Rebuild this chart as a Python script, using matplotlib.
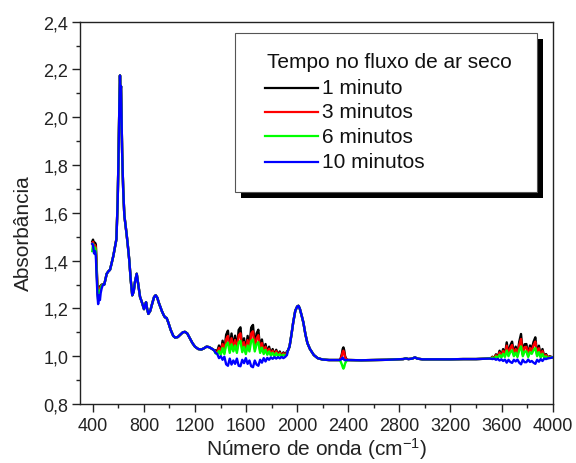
import numpy as np
import matplotlib
matplotlib.use("Agg")
import matplotlib.pyplot as plt
from matplotlib.ticker import MultipleLocator, FuncFormatter
from matplotlib.patches import Rectangle
from matplotlib.lines import Line2D

plt.rcParams['font.family'] = ['Liberation Sans', 'DejaVu Sans']
plt.rcParams['mathtext.default'] = 'regular'

# ---------------- data ----------------
series_labels = ["1 minuto", "3 minutos", "6 minutos", "10 minutos"]
series_colors = ["#000000", "#ff0000", "#00ff00", "#0000ff"]
legend_title = "Tempo no fluxo de ar seco"

# common (smooth) part of the spectra
wn_base = [490, 509, 522, 535, 548, 561, 575, 585, 595, 602, 608, 613, 617, 621, 625,
           630, 638, 647, 656, 665, 675, 686, 697, 709, 720, 730, 744, 756, 770, 785,
           801, 810, 817, 825, 835, 850, 865, 880, 892, 905, 916, 926, 940, 955, 965,
           978, 992, 1010, 1030, 1045, 1065, 1085, 1105, 1122, 1140, 1160, 1180, 1200,
           1226, 1250, 1270, 1291, 1310, 1330, 1350,
           1925, 1940, 1955, 1969, 1985, 2000, 2010, 2020, 2035, 2048, 2065, 2080,
           2100, 2130, 2160, 2200, 2250, 2300, 2325,
           2400, 2500, 2600, 2700, 2800, 2830, 2851, 2870, 2900, 2922, 2940, 2980,
           3100, 3200, 3300, 3400, 3490, 4000]
abs_base = [1.300, 1.345, 1.355, 1.362, 1.390, 1.420, 1.460, 1.490, 1.650, 1.850, 2.050,
            2.175, 2.100, 2.130, 2.000, 1.850, 1.700, 1.590, 1.550, 1.510, 1.460, 1.400,
            1.320, 1.255, 1.270, 1.310, 1.345, 1.300, 1.248, 1.225, 1.197, 1.215, 1.226,
            1.200, 1.177, 1.190, 1.220, 1.248, 1.255, 1.245, 1.225, 1.210, 1.190, 1.172,
            1.163, 1.160, 1.140, 1.110, 1.085, 1.078, 1.080, 1.090, 1.100, 1.102, 1.095,
            1.075, 1.055, 1.040, 1.030, 1.028, 1.033, 1.040, 1.038, 1.032, 1.025,
            1.020, 1.040, 1.090, 1.142, 1.190, 1.208, 1.211, 1.200, 1.170, 1.142, 1.090,
            1.055, 1.030, 1.005, 0.992, 0.986, 0.984, 0.984, 0.984,
            0.984, 0.983, 0.984, 0.985, 0.987, 0.988, 0.991, 0.988, 0.990, 0.995, 0.990,
            0.987, 0.987, 0.987, 0.988, 0.988, 0.990, 0.995]

# region 0: low wavenumber edge
wn_v0 = [396, 402, 410, 418, 424, 430, 436, 442, 450, 456, 462, 470, 480]
v0 = [
    [1.480, 1.488, 1.470, 1.475, 1.468, 1.380, 1.300, 1.250, 1.290, 1.292, 1.295, 1.300, 1.300],
    [1.470, 1.478, 1.460, 1.465, 1.455, 1.370, 1.290, 1.240, 1.280, 1.285, 1.290, 1.298, 1.300],
    [1.440, 1.470, 1.445, 1.455, 1.440, 1.360, 1.280, 1.235, 1.270, 1.275, 1.280, 1.296, 1.300],
    [1.470, 1.465, 1.430, 1.440, 1.420, 1.340, 1.260, 1.218, 1.255, 1.235, 1.265, 1.285, 1.300],
]

# region 1: water vapour bands 1360-1920
wn_v1 = [1360, 1374, 1388, 1402, 1416, 1430, 1444, 1458, 1472, 1486, 1500, 1514, 1528,
         1542, 1556, 1570, 1584, 1598, 1612, 1626, 1640, 1654, 1668, 1682, 1696, 1710,
         1724, 1738, 1752, 1766, 1780, 1794, 1808, 1822, 1836, 1850, 1864, 1878, 1892,
         1906, 1920]
v1 = [
    [1.025, 1.020, 1.045, 1.015, 1.065, 1.020, 1.090, 1.107, 1.030, 1.095, 1.040, 1.086,
     1.030, 1.110, 1.121, 1.035, 1.075, 1.020, 1.085, 1.040, 1.120, 1.131, 1.040, 1.095,
     1.111, 1.030, 1.070, 1.020, 1.051, 1.015, 1.040, 1.010, 1.030, 1.005, 1.027, 1.005,
     1.020, 1.000, 1.016, 1.005, 1.020],
    [1.019, 1.015, 1.035, 1.011, 1.051, 1.015, 1.071, 1.085, 1.023, 1.075, 1.031, 1.068,
     1.023, 1.087, 1.096, 1.027, 1.059, 1.015, 1.067, 1.031, 1.095, 1.104, 1.031, 1.075,
     1.088, 1.023, 1.055, 1.015, 1.040, 1.011, 1.031, 1.007, 1.023, 1.003, 1.021, 1.003,
     1.015, 0.999, 1.012, 1.003, 1.015],
    [1.012, 1.009, 1.022, 1.006, 1.034, 1.009, 1.047, 1.057, 1.014, 1.050, 1.020, 1.045,
     1.014, 1.058, 1.064, 1.017, 1.039, 1.009, 1.045, 1.020, 1.064, 1.070, 1.020, 1.050,
     1.059, 1.014, 1.036, 1.009, 1.026, 1.006, 1.020, 1.003, 1.014, 1.000, 1.013, 1.000,
     1.009, 0.998, 1.007, 1.000, 1.009],
    [1.015, 1.010, 0.992, 1.000, 0.985, 0.998, 0.966, 0.960, 0.990, 0.965, 0.982, 0.968,
     0.990, 0.960, 0.958, 0.985, 0.971, 0.992, 0.968, 0.982, 0.958, 0.954, 0.982, 0.965,
     0.960, 0.985, 0.973, 0.992, 0.978, 0.993, 0.985, 0.995, 0.989, 0.996, 0.990, 0.996,
     0.991, 0.997, 0.992, 0.997, 1.005],
]

# region 2: CO2 band near 2360
wn_v2 = [2330, 2340, 2350, 2356, 2362, 2368, 2375, 2385, 2395]
v2 = [
    [0.984, 0.990, 1.010, 1.030, 1.037, 1.025, 1.000, 0.988, 0.984],
    [0.984, 0.988, 1.003, 1.018, 1.023, 1.015, 0.995, 0.986, 0.984],
    [0.984, 0.978, 0.965, 0.955, 0.948, 0.955, 0.970, 0.980, 0.984],
    [0.984, 0.985, 0.990, 0.994, 0.990, 0.985, 0.983, 0.984, 0.984],
]

# region 3: water vapour bands 3500-3980
wn_v3 = [3500, 3514, 3528, 3542, 3556, 3570, 3584, 3598, 3612, 3626, 3640, 3654, 3668,
         3682, 3696, 3710, 3724, 3738, 3752, 3766, 3780, 3794, 3808, 3822, 3836, 3850,
         3864, 3878, 3892, 3906, 3920, 3934, 3948, 3962, 3976]
v3 = [
    [0.992, 0.990, 0.998, 0.992, 1.008, 0.995, 1.023, 1.000, 1.030, 1.005, 1.058, 1.010,
     1.045, 1.061, 1.010, 1.040, 1.005, 1.060, 1.093, 1.010, 1.050, 1.051, 1.005, 1.045,
     1.030, 1.060, 1.079, 1.010, 1.044, 1.000, 1.030, 0.998, 1.009, 0.995, 1.000],
    [0.992, 0.990, 0.996, 0.992, 1.004, 0.994, 1.016, 0.998, 1.022, 1.002, 1.044, 1.006,
     1.034, 1.047, 1.006, 1.030, 1.002, 1.046, 1.072, 1.006, 1.038, 1.039, 1.002, 1.034,
     1.022, 1.046, 1.061, 1.006, 1.033, 0.998, 1.022, 0.996, 1.005, 0.994, 0.998],
    [0.991, 0.990, 0.994, 0.991, 0.999, 0.992, 1.006, 0.995, 1.010, 0.997, 1.024, 1.000,
     1.017, 1.025, 1.000, 1.015, 0.997, 1.025, 1.041, 1.000, 1.020, 1.020, 0.997, 1.017,
     1.010, 1.025, 1.034, 1.000, 1.017, 0.995, 1.010, 0.994, 0.999, 0.992, 0.995],
    [0.990, 0.990, 0.988, 0.990, 0.985, 0.989, 0.982, 0.987, 0.980, 0.986, 0.973, 0.985,
     0.976, 0.972, 0.985, 0.978, 0.986, 0.973, 0.966, 0.985, 0.975, 0.975, 0.986, 0.976,
     0.980, 0.973, 0.968, 0.985, 0.977, 0.988, 0.980, 0.990, 0.988, 0.991, 0.992],
]

x_ticks = [400, 800, 1200, 1600, 2000, 2400, 2800, 3200, 3600, 4000]
y_ticks = [0.8, 1.0, 1.2, 1.4, 1.6, 1.8, 2.0, 2.2, 2.4]

# ---------------- build series ----------------
def build(i):
    xs = list(wn_base) + wn_v0 + wn_v1 + wn_v2 + wn_v3
    ys = list(abs_base) + v0[i] + v1[i] + v2[i] + v3[i]
    order = np.argsort(xs, kind="stable")
    return np.asarray(xs)[order], np.asarray(ys)[order]

# ---------------- plot ----------------
fig = plt.figure(figsize=(5.76, 4.64), dpi=100)
ax = fig.add_axes([80 / 576, 1 - 405 / 464, 472.7 / 576, 382.3 / 464])

for i in range(4):
    x, y = build(i)
    ax.plot(x, y, color=series_colors[i], lw=1.7, solid_joinstyle="round", zorder=2 + i)

ax.set_xlim(300, 4000)
ax.set_ylim(0.8, 2.4)
ax.set_xticks(x_ticks)
ax.set_yticks(y_ticks)
ax.xaxis.set_minor_locator(MultipleLocator(200))
ax.yaxis.set_minor_locator(MultipleLocator(0.1))
ax.yaxis.set_major_formatter(FuncFormatter(lambda v, p: f"{v:.1f}".replace(".", ",")))
ax.tick_params(which="both", direction="out", top=False, right=False, width=1.0,
               color="#222222", labelsize=13, labelcolor="#222222")
ax.tick_params(which="major", length=5.5)
ax.tick_params(which="minor", length=3)
ax.tick_params(axis="y", pad=3)
ax.tick_params(axis="x", pad=4)
for s in ax.spines.values():
    s.set_linewidth(1.0)
    s.set_color("#222222")

ax.set_xlabel("Número de onda (cm$^{-1}$)", fontsize=15, color="#222222", labelpad=1)
ax.set_ylabel("Absorbância", fontsize=15, color="#222222")
ax.yaxis.set_label_coords(-0.1, 0.45)

# legend box with offset black shadow
bx0, by0, bw, bh = 0.328, 0.555, 0.639, 0.415
ax.add_patch(Rectangle((bx0 + 0.0127, by0 - 0.0157), bw, bh, transform=ax.transAxes,
                       facecolor="black", edgecolor="black", lw=0, zorder=10))
ax.add_patch(Rectangle((bx0, by0), bw, bh, transform=ax.transAxes,
                       facecolor="white", edgecolor="#555555", lw=0.8, zorder=11))
ax.text(0.396, 0.897, legend_title, transform=ax.transAxes, fontsize=15,
        va="center", ha="left", zorder=12, color="#111111")
rows = [0.827, 0.764, 0.700, 0.634]
for i in range(4):
    ax.add_line(Line2D([0.391, 0.503], [rows[i], rows[i]], transform=ax.transAxes,
                       color=series_colors[i], lw=1.6, zorder=12))
    ax.text(0.512, rows[i], series_labels[i], transform=ax.transAxes, fontsize=15,
            va="center", ha="left", zorder=12, color="#111111")

fig.savefig("out.png", dpi=100)
